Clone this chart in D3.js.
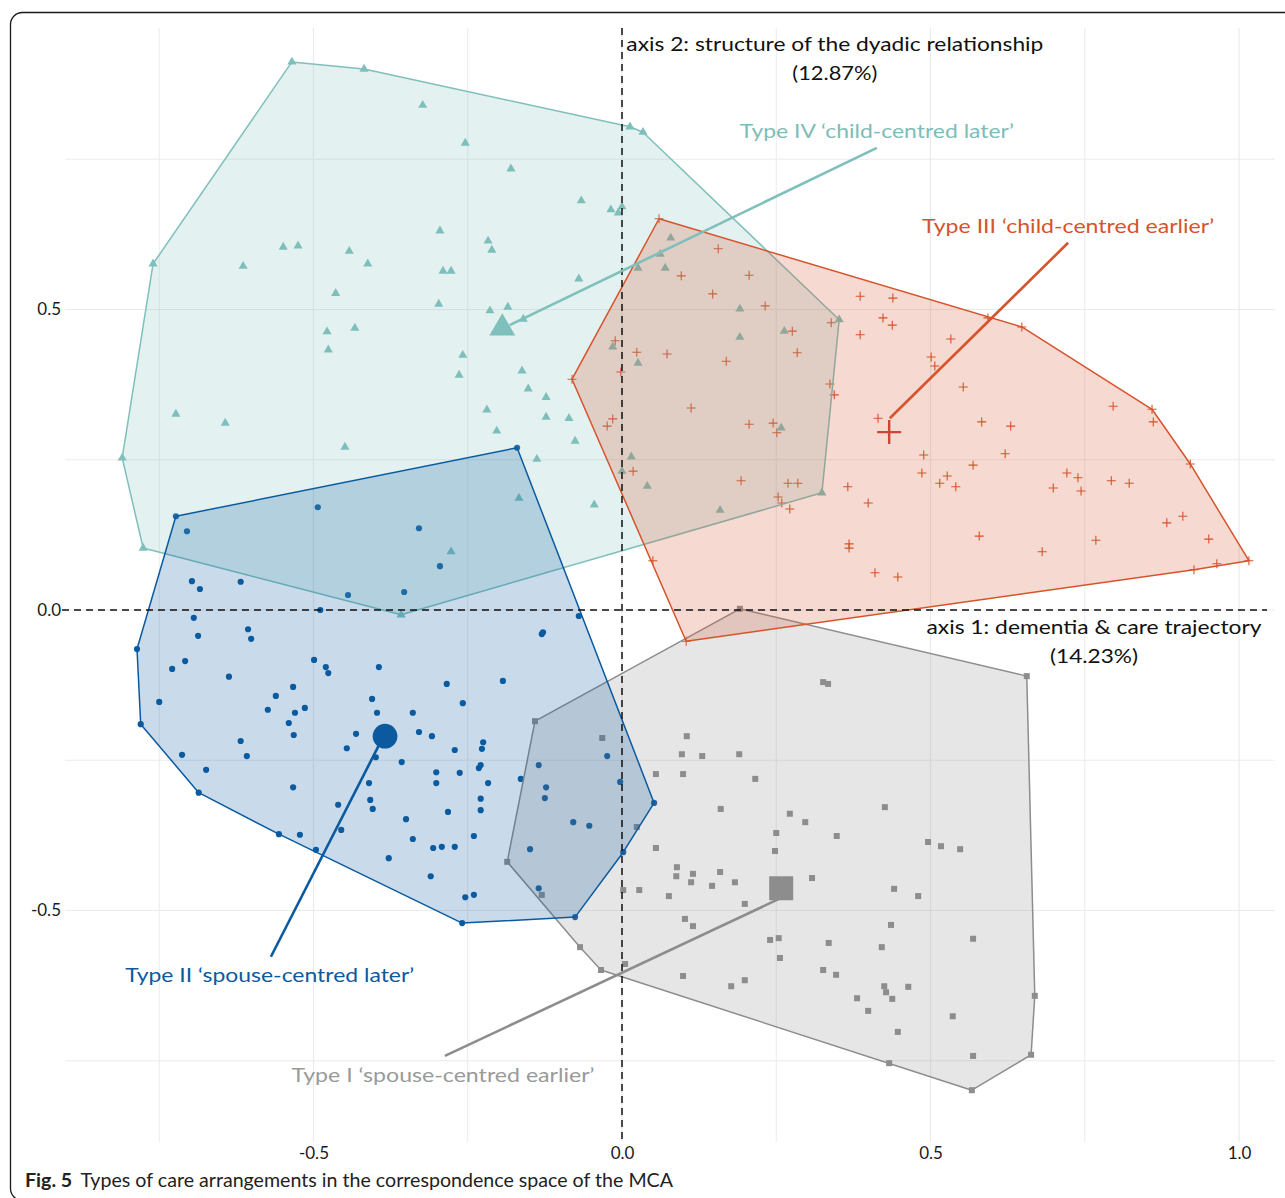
<!DOCTYPE html>
<html><head><meta charset="utf-8">
<script src="https://cdn.jsdelivr.net/npm/d3@7"></script>
<style>html,body{margin:0;padding:0;background:#fff;} svg{display:block;}</style>
</head><body>
<svg id="chart" width="1285" height="1198"></svg>
<script>
// ---------------- DATA ----------------
const categories = [
  "Type I \u2018spouse-centred earlier\u2019",
  "Type II \u2018spouse-centred later\u2019",
  "Type III \u2018child-centred earlier\u2019",
  "Type IV \u2018child-centred later\u2019"
];
// individual coordinates on axis 1 (x) and axis 2 (y)
const typeI = [[-0.141,-0.185],[0.191,0.002],[0.656,-0.110],[0.669,-0.642],[0.663,-0.740],[0.567,-0.799],[0.433,-0.754],[-0.034,-0.599],[-0.068,-0.561],[-0.186,-0.419],
[0.326,-0.120],[0.334,-0.123],[-0.032,-0.213],[0.105,-0.210],[0.097,-0.240],[0.130,-0.243],[0.190,-0.240],[0.055,-0.273],[0.099,-0.273],[0.216,-0.281],[0.160,-0.331],[0.272,-0.339],[0.297,-0.353],[0.250,-0.371],[0.248,-0.401],[0.348,-0.376],[0.024,-0.361],[0.055,-0.396],[0.089,-0.428],[0.088,-0.443],[0.115,-0.439],[0.112,-0.453],[0.159,-0.436],[0.146,-0.459],[0.183,-0.453],[0.076,-0.476],[0.002,-0.466],[0.028,-0.466],[-0.130,-0.474],[0.199,-0.489],[0.308,-0.446],[0.102,-0.514],[0.115,-0.526],[0.240,-0.549],[0.254,-0.546],[0.256,-0.579],[0.335,-0.554],[0.005,-0.589],[0.099,-0.609],[0.326,-0.599],[0.347,-0.607],[0.199,-0.616],[0.177,-0.626],[0.381,-0.646],[0.399,-0.667],[0.426,-0.328],[0.496,-0.386],[0.517,-0.393],[0.548,-0.398],[0.441,-0.464],[0.480,-0.476],[0.436,-0.524],[0.421,-0.561],[0.569,-0.547],[0.425,-0.626],[0.428,-0.636],[0.438,-0.647],[0.464,-0.627],[0.536,-0.676],[0.447,-0.702],[0.569,-0.742]];
const typeII = [[-0.723,0.156],[-0.170,0.270],[-0.070,-0.010],[0.052,-0.321],[0.002,-0.403],[-0.076,-0.511],[-0.259,-0.521],[-0.496,-0.399],[-0.556,-0.373],[-0.686,-0.304],[-0.780,-0.190],[-0.786,-0.065],
[-0.493,0.171],[-0.705,0.131],[-0.329,0.136],[-0.295,0.073],[-0.697,0.048],[-0.684,0.035],[-0.618,0.047],[-0.444,0.025],[-0.353,0.030],[-0.489,0.000],[-0.694,-0.013],[-0.606,-0.032],[-0.601,-0.048],[-0.687,-0.043],[-0.708,-0.085],[-0.729,-0.098],[-0.637,-0.111],[-0.499,-0.083],[-0.480,-0.095],[-0.476,-0.105],[-0.394,-0.095],[-0.284,-0.123],[-0.750,-0.153],[-0.561,-0.143],[-0.533,-0.128],[-0.574,-0.166],[-0.530,-0.171],[-0.514,-0.163],[-0.540,-0.188],[-0.532,-0.208],[-0.405,-0.148],[-0.397,-0.171],[-0.339,-0.171],[-0.258,-0.155],[-0.431,-0.206],[-0.329,-0.203],[-0.308,-0.210],[-0.618,-0.218],[-0.446,-0.230],[-0.271,-0.233],[-0.713,-0.241],[-0.608,-0.243],[-0.674,-0.266],[-0.399,-0.245],[-0.357,-0.253],[-0.301,-0.270],[-0.301,-0.288],[-0.263,-0.271],[-0.533,-0.295],[-0.410,-0.288],[-0.408,-0.316],[-0.404,-0.331],[-0.460,-0.324],[-0.282,-0.336],[-0.455,-0.366],[-0.522,-0.374],[-0.350,-0.348],[-0.339,-0.381],[-0.306,-0.396],[-0.292,-0.394],[-0.271,-0.394],[-0.378,-0.413],[-0.310,-0.443],[-0.254,-0.478],[-0.225,-0.220],[-0.227,-0.231],[-0.232,-0.263],[-0.229,-0.258],[-0.217,-0.288],[-0.229,-0.314],[-0.229,-0.333],[-0.240,-0.376],[-0.240,-0.474],[-0.164,-0.281],[-0.135,-0.258],[-0.123,-0.295],[-0.125,-0.313],[-0.024,-0.243],[-0.003,-0.286],[-0.079,-0.353],[-0.053,-0.359],[-0.149,-0.398],[-0.135,-0.463],[-0.130,-0.040],[-0.128,-0.037],[-0.193,-0.118]];
const typeIII = [[0.060,0.651],[0.593,0.486],[0.648,0.471],[0.859,0.334],[0.921,0.243],[1.016,0.082],[0.104,-0.052],[-0.081,0.384],
[0.156,0.601],[0.096,0.556],[0.206,0.557],[0.147,0.526],[0.232,0.506],[0.386,0.522],[0.339,0.478],[0.276,0.464],[0.386,0.458],[0.284,0.428],[-0.011,0.448],[0.024,0.429],[0.073,0.426],[0.169,0.414],[-0.002,0.396],[0.337,0.376],[0.344,0.358],[0.439,0.519],[0.423,0.486],[0.438,0.474],[0.533,0.451],[0.501,0.421],[0.507,0.406],[0.553,0.371],[0.112,0.336],[-0.024,0.306],[-0.015,0.318],[0.206,0.309],[0.245,0.311],[0.251,0.295],[0.018,0.231],[0.193,0.215],[0.269,0.211],[0.285,0.211],[0.253,0.188],[0.259,0.178],[0.272,0.168],[0.366,0.205],[0.399,0.178],[0.368,0.110],[0.368,0.103],[0.050,0.082],[0.415,0.319],[0.796,0.339],[0.861,0.313],[0.583,0.313],[0.630,0.306],[0.489,0.258],[0.621,0.260],[0.569,0.241],[0.486,0.228],[0.527,0.223],[0.515,0.211],[0.541,0.205],[0.721,0.228],[0.739,0.220],[0.699,0.203],[0.744,0.198],[0.793,0.215],[0.822,0.211],[0.579,0.123],[0.681,0.097],[0.768,0.116],[0.883,0.145],[0.909,0.156],[0.951,0.118],[0.964,0.077],[0.927,0.067],[0.410,0.062],[0.447,0.055]];
const typeIV = [[-0.535,0.912],[-0.418,0.900],[0.013,0.804],[0.034,0.795],[0.352,0.483],[0.324,0.195],[-0.358,-0.008],[-0.776,0.103],[-0.810,0.253],[-0.760,0.576],
[-0.323,0.840],[-0.254,0.777],[-0.295,0.631],[-0.549,0.604],[-0.525,0.606],[-0.614,0.572],[-0.442,0.597],[-0.412,0.576],[-0.290,0.564],[-0.277,0.564],[-0.464,0.527],[-0.297,0.509],[-0.478,0.463],[-0.433,0.469],[-0.476,0.433],[-0.258,0.424],[-0.264,0.391],[-0.180,0.734],[-0.066,0.681],[-0.018,0.666],[-0.006,0.661],[0.000,0.671],[-0.217,0.614],[-0.211,0.599],[0.079,0.619],[0.062,0.592],[-0.070,0.551],[0.026,0.569],[0.070,0.569],[-0.214,0.498],[-0.185,0.504],[-0.160,0.484],[0.191,0.501],[0.263,0.464],[0.191,0.454],[-0.162,0.398],[-0.015,0.438],[0.026,0.411],[-0.152,0.368],[-0.123,0.354],[-0.219,0.333],[-0.123,0.321],[-0.086,0.319],[-0.203,0.298],[-0.076,0.281],[-0.138,0.251],[-0.167,0.186],[-0.045,0.175],[0.258,0.303],[0.015,0.255],[0.000,0.231],[0.041,0.206],[0.159,0.166],[-0.723,0.326],[-0.643,0.311],[-0.449,0.271],[-0.277,0.097]];
// type centroids (supplementary points)
const centroids = [[0.258,-0.463],[-0.384,-0.210],[0.433,0.296],[-0.194,0.469]];
// annotation label anchors & leader lines (data units): [labelX, labelY, fromX, fromY, toX, toY]
const annotations = [
  [-0.290,-0.785, -0.287,-0.742, 0.258,-0.479],
  [-0.571,-0.619, -0.569,-0.577, -0.392,-0.221],
  [0.723,0.627, 0.723,0.611, 0.434,0.319],
  [0.413,0.785, 0.413,0.769, -0.182,0.474]
];
const xTicks = [-0.5, 0.0, 0.5, 1.0];
const yTicks = [-0.5, 0.0, 0.5];
const minorTicks = [-0.75, -0.25, 0.25, 0.75];
const axis1Title = ["axis 1: dementia & care trajectory", "(14.23%)"];
const axis2Title = ["axis 2: structure of the dyadic relationship", "(12.87%)"];
const captionText = ["Fig. 5", "Types of care arrangements in the correspondence space of the MCA"];

// ---------------- LAYOUT ----------------
const W = 1285, H = 1198;
const P = {left: 65, right: 1275, top: 28, bottom: 1142};
const FONT = "Lato, 'Open Sans', sans-serif";
const svg = d3.select("#chart");
const x = d3.scaleLinear().domain([-0.9027, 1.0583]).range([P.left, P.right]);
const y = d3.scaleLinear().domain([-0.8852, 0.9684]).range([P.bottom, P.top]);

const styles = [
  {color: "#8d8d8d", text: "#9a9a9a", shape: "square"},
  {color: "#0b5aa0", text: "#0b5aa0", shape: "circle"},
  {color: "#d6532b", text: "#d6532b", shape: "plus", big: "#cc4638"},
  {color: "#7fbfbc", text: "#7dbdb9", shape: "triangle"}
];
const series = [typeI, typeII, typeIII, typeIV];

// border
svg.append("rect").attr("x", 10.5).attr("y", 12.5).attr("width", 1300).attr("height", 1188)
  .attr("rx", 12).attr("fill", "none").attr("stroke", "#1a1a1a").attr("stroke-width", 1.3);

// grid
const grid = svg.append("g");
const xAll = [...xTicks, ...minorTicks], yAll = [...yTicks, ...minorTicks];
grid.selectAll("line.v").data(xAll).join("line")
  .attr("x1", d => x(d)).attr("x2", d => x(d)).attr("y1", P.top).attr("y2", P.bottom)
  .attr("stroke", "#ebebeb").attr("stroke-width", d => xTicks.includes(d) ? 1.2 : 1);
grid.selectAll("line.h").data(yAll).join("line")
  .attr("y1", d => y(d)).attr("y2", d => y(d)).attr("x1", P.left).attr("x2", P.right)
  .attr("stroke", "#ebebeb").attr("stroke-width", d => yTicks.includes(d) ? 1.2 : 1);

// axes (labels only)
const ax = svg.append("g").attr("transform", `translate(0,${P.bottom})`)
  .call(d3.axisBottom(x).tickValues(xTicks).tickSize(0).tickPadding(5).tickFormat(d => d.toFixed(1)));
const ay = svg.append("g").attr("transform", `translate(${P.left},0)`)
  .call(d3.axisLeft(y).tickValues(yTicks).tickSize(0).tickPadding(4).tickFormat(d => d.toFixed(1)));
[ax, ay].forEach(a => {
  a.select(".domain").remove();
  a.selectAll("text").attr("font-family", FONT).attr("font-size", 17).attr("fill", "#1a1a1a");
});

function shapePath(shape, big) {
  if (shape === "plus") { const s = big ? 12 : 4.5; return `M${-s},0H${s}M0,${-s}V${s}`; }
  const type = {square: d3.symbolSquare, circle: d3.symbolCircle, triangle: d3.symbolTriangle}[shape];
  const size = big ? {square: 576, circle: 480, triangle: 290}[shape]
                   : {square: 36, circle: 30, triangle: 36}[shape];
  return d3.symbol().type(type).size(size)();
}

// points (under the hull fills)
series.forEach((pts, i) => {
  const st = styles[i];
  const g = svg.append("g");
  g.selectAll("path").data(pts).join("path")
    .attr("transform", d => `translate(${x(d[0])},${y(d[1])})`)
    .attr("d", shapePath(st.shape, false))
    .attr("fill", st.shape === "plus" ? "none" : st.color)
    .attr("stroke", st.shape === "plus" ? st.color : "none")
    .attr("stroke-width", 1.1);
});

// convex hulls
const hullOrder = [3, 0, 1, 2];
hullOrder.forEach(i => {
  const st = styles[i];
  const hull = d3.polygonHull(series[i].map(d => [x(d[0]), y(d[1])]));
  svg.append("path").attr("d", "M" + hull.join("L") + "Z")
    .attr("fill", st.color).attr("fill-opacity", 0.22)
    .attr("stroke", st.color).attr("stroke-width", 1.5).attr("stroke-linejoin", "round");
});

// zero reference lines
svg.append("line").attr("x1", P.left - 3).attr("x2", P.right - 8).attr("y1", y(0)).attr("y2", y(0))
  .attr("stroke", "#111").attr("stroke-width", 1.5).attr("stroke-dasharray", "7,5");
svg.append("line").attr("x1", x(0)).attr("x2", x(0)).attr("y1", P.top).attr("y2", P.bottom)
  .attr("stroke", "#111").attr("stroke-width", 1.5).attr("stroke-dasharray", "7,5");

// leader lines
annotations.forEach((a, i) => {
  svg.append("line").attr("x1", x(a[2])).attr("y1", y(a[3])).attr("x2", x(a[4])).attr("y2", y(a[5]))
    .attr("stroke", styles[i].color).attr("stroke-width", 2.6);
});

// centroids
centroids.forEach((c, i) => {
  const st = styles[i];
  svg.append("path").attr("transform", `translate(${x(c[0])},${y(c[1])})`)
    .attr("d", shapePath(st.shape, true))
    .attr("fill", st.shape === "plus" ? "none" : st.color)
    .attr("stroke", st.shape === "plus" ? (st.big || st.color) : "none")
    .attr("stroke-width", 2.4);
});

// labels
const labelWidths = [303, 289, 292, 274];
annotations.forEach((a, i) => {
  svg.append("text").attr("x", x(a[0])).attr("y", y(a[1])).attr("text-anchor", "middle")
    .attr("font-family", FONT).attr("font-size", 20).attr("fill", styles[i].text)
    .attr("textLength", labelWidths[i]).attr("lengthAdjust", "spacingAndGlyphs")
    .text(categories[i]);
});

// axis titles
function title(lines, cx, by, widths) {
  lines.forEach((t, k) => {
    svg.append("text").attr("x", cx).attr("y", by + k * 29).attr("text-anchor", "middle")
      .attr("font-family", FONT).attr("font-size", 20).attr("fill", "#111")
      .attr("textLength", widths[k]).attr("lengthAdjust", "spacingAndGlyphs").text(t);
  });
}
title(axis2Title, x(0.345), y(0.930), [417, 85]);
title(axis1Title, x(0.765), y(-0.040), [335, 88]);

// caption
const cap = svg.append("text").attr("x", 25).attr("y", 1187).attr("font-family", FONT)
  .attr("font-size", 19).attr("fill", "#222")
  .attr("textLength", 648).attr("lengthAdjust", "spacingAndGlyphs");
cap.append("tspan").attr("font-weight", "bold").text(captionText[0]);
cap.append("tspan").attr("dx", 8).text(captionText[1]);
</script>
</body></html>
